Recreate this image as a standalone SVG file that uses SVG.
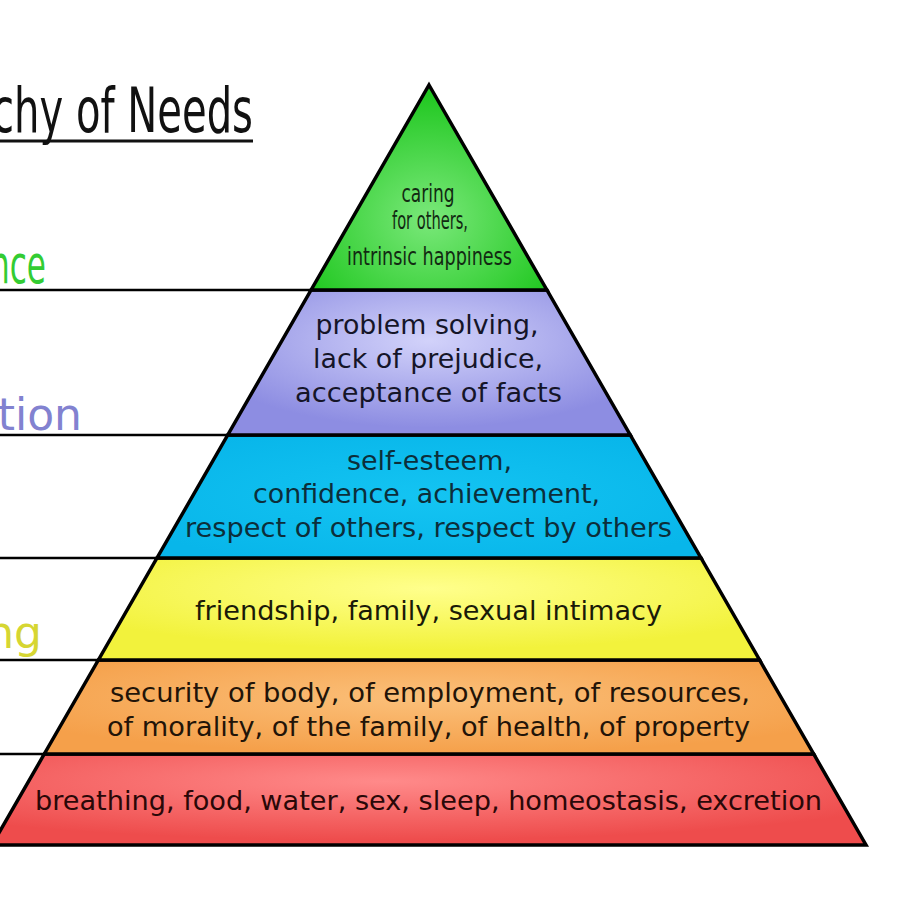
<svg xmlns="http://www.w3.org/2000/svg" width="900" height="900" viewBox="0 0 900 900">
  <defs>
    <style>
      .layer { stroke: #000; stroke-width: 3.5; stroke-linejoin: miter; }
      .guide { stroke: #000; stroke-width: 2.5; fill: none; }
      .narrow { font-family: "DejaVu Sans Condensed", "Liberation Sans Narrow", "DejaVu Sans", sans-serif; font-stretch: condensed; }
      .cond { font-family: "DejaVu Sans Condensed", "DejaVu Sans", sans-serif; font-stretch: condensed; font-size: 27px; }
      .reg { font-family: "DejaVu Sans", "Verdana", sans-serif; font-size: 27px; }
      .mid { text-anchor: middle; }
    </style>
    <radialGradient id="gGreen" cx="0.5" cy="0.65" r="0.6">
      <stop offset="0" stop-color="#7ae87a"/>
      <stop offset="1" stop-color="#22c822"/>
    </radialGradient>
    <radialGradient id="gPurple" cx="0.5" cy="0.35" r="0.6">
      <stop offset="0" stop-color="#d2d2fa"/>
      <stop offset="1" stop-color="#8d8de2"/>
    </radialGradient>
    <radialGradient id="gCyan" cx="0.5" cy="0.5" r="0.6">
      <stop offset="0" stop-color="#14c4f2"/>
      <stop offset="1" stop-color="#08b6ea"/>
    </radialGradient>
    <radialGradient id="gYellow" cx="0.5" cy="0.3" r="0.6">
      <stop offset="0" stop-color="#ffff8c"/>
      <stop offset="1" stop-color="#f2f23c"/>
    </radialGradient>
    <radialGradient id="gOrange" cx="0.5" cy="0.4" r="0.6">
      <stop offset="0" stop-color="#fbc07a"/>
      <stop offset="1" stop-color="#f5a04a"/>
    </radialGradient>
    <radialGradient id="gRed" cx="0.45" cy="0.3" r="0.65">
      <stop offset="0" stop-color="#ff8a8a"/>
      <stop offset="1" stop-color="#ee4c4c"/>
    </radialGradient>
  </defs>

  <rect x="0" y="0" width="900" height="900" fill="#ffffff"/>

  <g id="title">
    <text class="narrow" x="-8" y="132" font-size="62" fill="#111" textLength="261" lengthAdjust="spacingAndGlyphs">chy of Needs</text>
    <line x1="0" y1="141" x2="253" y2="141" stroke="#111" stroke-width="3"/>
  </g>

  <g id="side-labels">
    <text class="narrow" x="-10" y="283" font-size="54" fill="#33cc33" textLength="56" lengthAdjust="spacingAndGlyphs">nce</text>
    <text x="82" y="430" font-family="DejaVu Sans, sans-serif" font-size="44" fill="#8282d0" text-anchor="end">tion</text>
    <text x="42" y="648" font-family="DejaVu Sans, sans-serif" font-size="44" fill="#d6d632" text-anchor="end">ng</text>
  </g>

  <g id="connectors">
    <line class="guide" x1="0" y1="290" x2="311" y2="290"/>
    <line class="guide" x1="0" y1="435" x2="228" y2="435"/>
    <line class="guide" x1="0" y1="558" x2="157" y2="558"/>
    <line class="guide" x1="0" y1="660" x2="98" y2="660"/>
    <line class="guide" x1="0" y1="754" x2="44" y2="754"/>
  </g>

  <g id="layer-red">
    <polygon class="layer" points="44.3,754 813.7,754 866,845 -8,845" fill="url(#gRed)"/>
    <text class="cond mid" x="428.5" y="810" fill="#2a0808" textLength="787" lengthAdjust="spacingAndGlyphs">breathing, food, water, sex, sleep, homeostasis, excretion</text>
  </g>

  <g id="layer-orange">
    <polygon class="layer" points="98.4,660 759.6,660 813.7,754 44.3,754" fill="url(#gOrange)"/>
    <text class="cond mid" x="430" y="702" fill="#221408" textLength="640" lengthAdjust="spacingAndGlyphs">security of body, of employment, of resources,</text>
    <text class="cond mid" x="428.5" y="736" fill="#221408" textLength="643" lengthAdjust="spacingAndGlyphs">of morality, of the family, of health, of property</text>
  </g>

  <g id="layer-yellow">
    <polygon class="layer" points="157,558 701,558 759.6,660 98.4,660" fill="url(#gYellow)"/>
    <text class="reg mid" x="428.5" y="620" fill="#1a1a08" textLength="467" lengthAdjust="spacingAndGlyphs">friendship, family, sexual intimacy</text>
  </g>

  <g id="layer-cyan">
    <polygon class="layer" points="227.75,435 630.25,435 701,558 157,558" fill="url(#gCyan)"/>
    <text class="reg mid" x="429.5" y="470" fill="#0c2e3a" textLength="165" lengthAdjust="spacingAndGlyphs">self-esteem,</text>
    <text class="reg mid" x="426.5" y="503" fill="#0c2e3a" textLength="347" lengthAdjust="spacingAndGlyphs">confidence, achievement,</text>
    <text class="reg mid" x="428.5" y="537" fill="#0c2e3a" textLength="487" lengthAdjust="spacingAndGlyphs">respect of others, respect by others</text>
  </g>

  <g id="layer-purple">
    <polygon class="layer" points="311.1,290 546.9,290 630.25,435 227.75,435" fill="url(#gPurple)"/>
    <text class="reg mid" x="427" y="334" fill="#151528" textLength="223" lengthAdjust="spacingAndGlyphs">problem solving,</text>
    <text class="reg mid" x="428" y="368" fill="#151528" textLength="230" lengthAdjust="spacingAndGlyphs">lack of prejudice,</text>
    <text class="reg mid" x="428.5" y="402" fill="#151528" textLength="267" lengthAdjust="spacingAndGlyphs">acceptance of facts</text>
  </g>

  <g id="layer-green">
    <polygon class="layer" points="429,85 546.9,290 311.1,290" fill="url(#gGreen)"/>
    <text class="narrow mid" x="428" y="202" font-size="24" fill="#122a12" textLength="53" lengthAdjust="spacingAndGlyphs">caring</text>
    <text class="narrow mid" x="430" y="229" font-size="24" fill="#122a12" textLength="76" lengthAdjust="spacingAndGlyphs">for others,</text>
    <text class="narrow mid" x="429.5" y="265" font-size="24" fill="#122a12" textLength="165" lengthAdjust="spacingAndGlyphs">intrinsic happiness</text>
  </g>
</svg>
